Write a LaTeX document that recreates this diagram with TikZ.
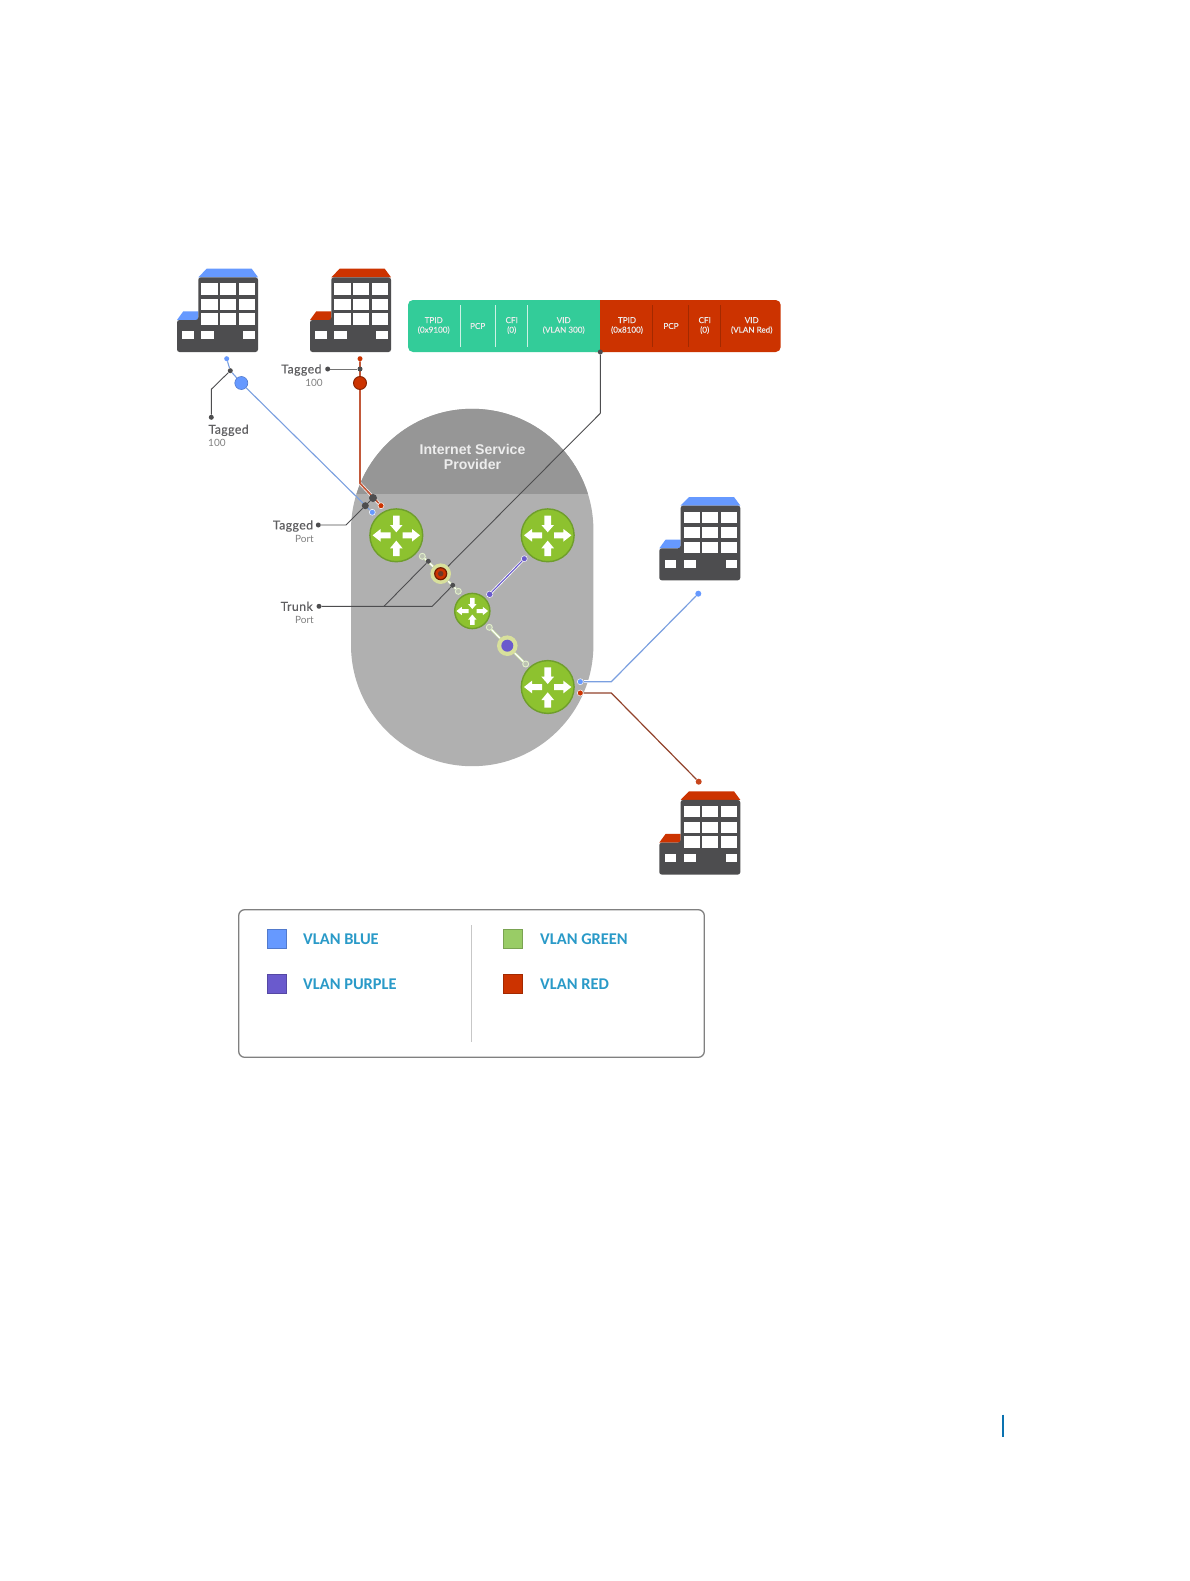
\documentclass[tikz,border=0pt]{standalone}
\usepackage{fontspec}
\setmainfont{Lato}
\newfontfamily\arialfont{Liberation Sans}
\newfontfamily\legfont{Carlito}
\newfontfamily\lblfont[LetterSpace=3,FakeBold=0.25]{Lato}
\newfontfamily\hdrfont[FakeBold=0.2]{Lato}
\definecolor{bdark}{HTML}{4D4D4F}
\definecolor{vblue}{HTML}{6699FF}
\definecolor{vred}{HTML}{CC3300}
\definecolor{vpurple}{HTML}{6A5ACD}
\definecolor{vgreen}{HTML}{99CC66}
\definecolor{teal}{HTML}{33CC99}
\definecolor{rgreen}{HTML}{8DC22F}
\definecolor{rline}{HTML}{6F9E2C}
\definecolor{halo}{HTML}{D8E09C}
\definecolor{linkblue}{HTML}{7A9FE0}
\definecolor{linkred}{HTML}{C2593A}
\definecolor{legtext}{HTML}{2A9AC8}
\definecolor{pagemark}{HTML}{0A72B0}
\pgfdeclarelayer{back}
\pgfdeclarelayer{lines}
\pgfsetlayers{back,lines,main}
\tikzset{
  x=1pt,y=-1pt,
  bwin/.style={fill=white,draw=none},
  dot/.style={circle,fill=bdark,draw=none,inner sep=0pt,minimum size=#1},
  dot/.default=5pt,
  hub/.style={circle,inner sep=0pt,minimum size=#1},
  blk/.style={draw=bdark,line width=0.9pt,line join=round},
  lbl/.style={font=\lblfont\fontsize{12.4}{13}\selectfont,text=bdark!90,inner sep=0pt},
  sublbl/.style={font=\fontsize{10}{11}\selectfont,text=black!50,inner sep=0pt},
  hdr/.style={font=\hdrfont\fontsize{8.1}{9.6}\selectfont,text=white!92!black,align=center,inner sep=0pt},
  leg/.style={font=\legfont\fontsize{16.4}{18}\selectfont\bfseries,text=legtext,anchor=west,inner sep=0pt},
  swatch/.style={draw=#1!80!black,fill=#1,line width=0.5pt},
  hollow/.style={circle,fill=rgreen!35!black!32,draw=white!75!rgreen,line width=0.9pt,inner sep=0pt,minimum size=6pt},
  arrowfill/.style={fill=white,draw=none},
}
\newcommand{\building}[3]{%
\begin{scope}[shift={(#1,#2)}]
  \fill[#3] (29.7,0) -- (74.7,0) -- (81,8.6) -- (21.3,8.6) -- cycle;
  \fill[#3] (6.3,42.6) -- (21.3,42.6) -- (21.3,51.3) -- (0,51.3) -- cycle;
  \fill[bdark,rounded corners=2.5pt] (21.3,8.6) -- (81,8.6) -- (81,83.3) -- (0,83.3) -- (0,51.3) -- (21.3,51.3) -- cycle;
  \foreach \yy/\hh in {14.6/11.4,30.3/11,44.6/11.7}{
    \fill[bwin] (24.3,\yy) rectangle +(16.4,\hh);
    \fill[bwin] (43,\yy) rectangle +(16,\hh);
    \fill[bwin] (62,\yy) rectangle +(16,\hh);
  }
  \fill[bwin] (5.3,62.6) rectangle +(11.7,8);
  \fill[bwin] (24.3,62.6) rectangle +(12.4,8);
  \fill[bwin] (66.3,62.6) rectangle +(11.7,8);
\end{scope}}
\newcommand{\router}[3]{%
\begin{scope}[shift={(#1,#2)},scale=#3]
  \fill[rgreen,draw=rline,line width=1.4pt] (0,0) circle (26.4);
  \fill[arrowfill] (-3.3,-19.7) -- (3.3,-19.7) -- (3.3,-10.3) -- (6.3,-10.3) -- (0,-3) -- (-6.3,-10.3) -- (-3.3,-10.3) -- cycle;
  \fill[arrowfill] (-3.3,20.7) -- (3.3,20.7) -- (3.3,13) -- (6.3,13) -- (0,5.3) -- (-6.3,13) -- (-3.3,13) -- cycle;
  \fill[arrowfill] (-5.7,-3) -- (-5.7,3) -- (-15.7,3) -- (-15.7,6.3) -- (-23.7,0) -- (-15.7,-6.3) -- (-15.7,-3) -- cycle;
  \fill[arrowfill] (6.3,-3) -- (6.3,3) -- (15.7,3) -- (15.7,6.3) -- (23.7,0) -- (15.7,-6.3) -- (15.7,-3) -- cycle;
\end{scope}}
\begin{document}
\begin{tikzpicture}
\useasboundingbox (0,0) rectangle (1189,1581);
\begin{pgfonlayer}{back}
\fill[white] (0,0) rectangle (1189,1581);
% provider oval
\fill[black!31] (351,530) arc[start angle=180,end angle=360,x radius=121.2,y radius=121.2]
  -- (593.4,645) arc[start angle=0,end angle=180,x radius=121.2,y radius=121.2] -- cycle;
\begin{scope}
  \clip (300,400) rectangle (640,493.3);
  \fill[black!41] (351,530) arc[start angle=180,end angle=360,x radius=121.2,y radius=121.2] -- cycle;
\end{scope}
\end{pgfonlayer}
\node[font=\arialfont\bfseries\fontsize{14.1}{15.4}\selectfont,text=white!93!black,align=center,inner sep=0pt] (isp) at (472.5,457) {Internet Service\\Provider};

% buildings
\building{177}{268.7}{vblue}
\building{310}{268.7}{vred}
\building{659.3}{497}{vblue}
\building{659.3}{791.3}{vred}

% VLAN frame
\fill[teal,rounded corners=5pt] (610,300) -- (408,300) -- (408,352) -- (610,352) -- cycle;
\fill[vred,rounded corners=5pt] (590,300) -- (780.7,300) -- (780.7,352) -- (590,352) -- cycle;
\fill[teal] (590,300) rectangle (600.3,352);
\foreach \xx in {460.3,495,527.7} \draw[white!75!teal,line width=0.9pt] (\xx,305) -- (\xx,346.7);
\foreach \xx in {652.3,688.7,720.3} \draw[black!20!vred,line width=0.9pt] (\xx,305) -- (\xx,346.7);
\node[hdr] (h1) at (433.7,325.5) {TPID\\(0x9100)};
\node[hdr] (h2) at (477.7,326) {PCP};
\node[hdr] (h3) at (511.7,325.5) {CFI\\(0)};
\node[hdr] (h4) at (563.7,325.5) {VID\\(VLAN 300)};
\node[hdr] (h5) at (627,325.5) {TPID\\(0x8100)};
\node[hdr] (h6) at (671,326) {PCP};
\node[hdr] (h7) at (704.7,325.5) {CFI\\(0)};
\node[hdr] (h8) at (751.7,325.5) {VID\\(VLAN Red)};

% named dots
\node[dot=5pt,fill=vblue] (bt) at (226.7,358.7) {};
\node[dot=5pt] (bj) at (230.3,370.7) {};
\node[hub=13pt,fill=vblue,draw=vblue!80!black,line width=0.6pt] (bh) at (241.3,383) {};
\node[dot=6pt,fill=vblue,draw=white,line width=0.5pt] (bend) at (372.3,512.3) {};
\node[dot=5pt] (tagA) at (211.3,417.3) {};
\node[dot=5pt,fill=vred] (rt) at (360,358.7) {};
\node[dot=5pt] (rj) at (360,369) {};
\node[hub=13pt,fill=vred,draw=black!35!vred,line width=0.9pt] (rh) at (360,383) {};
\node[dot=6pt,fill=vred,draw=white,line width=0.5pt] (rend) at (381,505.7) {};
\node[dot=5pt] (tagB) at (327.7,369) {};
\node[dot=5pt] (tagP) at (318.3,525) {};
\node[dot=7pt] (tp1) at (365.3,505.7) {};
\node[dot=8pt] (tp2) at (373,498) {};
\node[dot=5pt] (trP) at (319,606.3) {};
\node[dot=5pt] (tr1) at (428.3,561.3) {};
\node[dot=5pt] (tr2) at (452.7,585.3) {};
\node[dot=5pt] (fd) at (600.3,352) {};
\coordinate (rtop) at (360,483.3);
\coordinate (c1) at (211.3,389.3);
\coordinate (c2) at (346,525);
\coordinate (c3) at (432.3,606.3);
\coordinate (c4) at (384,606.3);
\coordinate (c5) at (600.3,413.3);
\coordinate (c6) at (611.3,681.7);
\coordinate (c7) at (611.3,693);

% routers
\router{396.3}{535.3}{1}
\router{547.7}{535.3}{1}
\router{472.3}{611}{0.667}
\router{547.7}{687}{1}

% green trunk links
\node[hollow] (g1) at (422.3,556.3) {};
\node[hollow] (g2) at (458.3,591.3) {};
\node[hollow] (g3) at (489.3,627.3) {};
\node[hollow] (g4) at (525.7,664) {};
\node[hub=20.6pt,fill=halo] (hr) at (440.7,573.7) {};
\node[hub=20.6pt,fill=halo] (hp) at (507.3,645.7) {};
\node[hub=12pt,fill=vred,draw=black!45!vred,line width=1.2pt] (hr2) at (440.7,573.7) {};
\node[hub=12pt,fill=vpurple] (hp2) at (507.3,645.7) {};
\node[hub=5.5pt,fill=black!50!vred!70!gray] (hr3) at (440.7,573.7) {};

% purple link ends
\node[dot=6.5pt,fill=vpurple,draw=white,line width=0.5pt] (p1) at (489.7,594.3) {};
\node[dot=6pt,fill=vpurple,draw=white,line width=0.5pt] (p2) at (524.3,558.7) {};

% access link ends
\node[dot=6pt,fill=vblue,draw=white,line width=0.5pt] (eb) at (580.3,681.7) {};
\node[dot=6pt,fill=vblue] (eb2) at (698.3,593.7) {};
\node[dot=6pt,fill=vred,draw=white,line width=0.5pt] (er) at (580.3,693) {};
\node[dot=6pt,fill=linkred!50!vred] (er2) at (698.7,781.7) {};

\begin{pgfonlayer}{lines}
\foreach \a/\b in {g1/hr,hr/g2,g3/hp,hp/g4}{
  \draw[rgreen!45!white,line width=2.4pt] (\a) -- (\b);
  \draw[white,line width=1.2pt] (\a) -- (\b);
}
\draw[white,line width=2.6pt] (p1) -- (p2);
\draw[vpurple,line width=1.1pt] (p1) -- (p2);
\draw[linkblue,line width=1.1pt] (bt) -- (bj) -- (bh) -- (bend);
\draw[white,line width=3pt] (rtop) -- (rend);
\draw[linkred,line width=1.7pt] (rt) -- (rh) -- (rtop) -- (rend);
\draw[white,line width=2.6pt] (eb) -- (c6);
\draw[linkblue,line width=1.2pt] (eb) -- (c6) -- (eb2);
\draw[white,line width=2.6pt] (er) -- (c7);
\draw[linkred!75!black,line width=1.2pt] (er) -- (c7) -- (er2);
% black callouts
\draw[blk] (bj) -- (c1) -- (tagA);
\draw[blk,draw=black!55] (tagB) -- (rj);
\draw[blk] (tagP) -- (c2) -- (tp1) -- (tp2);
\draw[blk] (trP) -- (c3) -- (tr2);
\draw[blk] (c4) -- (tr1);
\draw[blk] (fd) -- (c5) -- (hr3);
\end{pgfonlayer}

% labels
\node[lbl,anchor=west] (t1) at (208.3,430.3) {Tagged};
\node[sublbl,anchor=west] (s1) at (208,443.3) {100};
\node[lbl,anchor=east] (t2) at (321.7,370) {Tagged};
\node[sublbl] (s2) at (314,382.7) {100};
\node[lbl,anchor=east] (t3) at (313.3,526) {Tagged};
\node[sublbl,anchor=east] (s3) at (314,538.7) {Port};
\node[lbl,anchor=east] (t4) at (313,606.3) {Trunk};
\node[sublbl,anchor=east] (s4) at (314,620.3) {Port};

% legend
\draw[draw=black!50,line width=1.3pt,rounded corners=6pt,fill=white] (238.7,909.7) rectangle (704.3,1057.3);
\draw[draw=black!22,line width=1pt] (471.3,925) -- (471.3,1042.3);
\draw[swatch=vblue] (267.7,929) rectangle (286.7,948.7);
\draw[swatch=vpurple] (267.7,974.7) rectangle (286.7,993.7);
\draw[swatch=vgreen] (503.7,929) rectangle (522.7,948.7);
\draw[swatch=vred] (503.7,974.7) rectangle (522.7,993.7);
\node[leg] (l1) at (303,939.6) {VLAN BLUE};
\node[leg] (l2) at (303,983.8) {VLAN PURPLE};
\node[leg] (l3) at (540,939.6) {VLAN GREEN};
\node[leg] (l4) at (540,983.8) {VLAN RED};

% page mark
\draw[draw=pagemark,line width=2pt] (1003,1414.7) -- (1003,1437.3);
\end{tikzpicture}
\end{document}
